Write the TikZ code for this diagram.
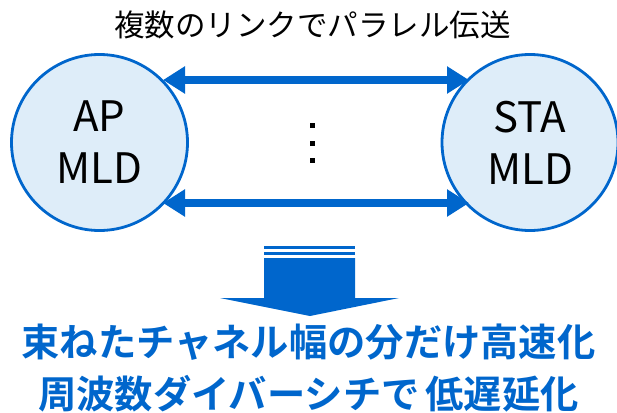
\documentclass[tikz,border=0pt]{standalone}
\usepackage{fontspec}
\setmainfont{Noto Sans CJK JP}
\newfontfamily\jpbold{Noto Sans CJK JP}[BoldFont={* Bold}]
\usetikzlibrary{arrows.meta,shapes.geometric}
\definecolor{mblue}{HTML}{0066CC}
\definecolor{mfill}{HTML}{DEEDF9}
\tikzset{
  mld/.style={circle, draw=mblue, line width=2.8pt, fill=mfill, minimum size=176pt, font=\fontsize{42}{52}\selectfont, align=center, inner sep=0pt},
  link/.style={draw=mblue, line width=8pt, {Triangle[length=22pt,width=26pt]}-{Triangle[length=22pt,width=26pt]}, shorten <=-2pt, shorten >=-2pt},
  dot/.style={fill=black, minimum size=5pt, inner sep=0pt},
  bigtxt/.style={text=mblue, font=\fontsize{38.3}{44}\selectfont\bfseries, inner sep=0pt}
}
\begin{document}
\begin{tikzpicture}[x=1pt,y=-1pt]
\useasboundingbox (0,0) rectangle (617,412);
\node[font=\fontsize{30.5}{34}\selectfont, inner sep=0pt] (title) at (312.5,25) {複数のリンクでパラレル伝送};
\node[mld] (ap) at (99.5,142.5) {AP\\MLD};
\node[mld] (sta) at (530,142.5) {STA\\MLD};
\coordinate (t1) at (165,80); \coordinate (t2) at (467,80);
\coordinate (b1) at (165,203); \coordinate (b2) at (467,203);
\draw[link] (t1) -- (t2);
\draw[link] (b1) -- (b2);
\node[dot] (d1) at (312,125) {};
\node[dot] (d2) at (312,143) {};
\node[dot] (d3) at (312,160) {};
\fill[mblue] (264,246) rectangle (355,249);
\fill[mblue] (264,251.5) rectangle (355,254.5);
\fill[mblue] (264,258) -- (355,258) -- (355,298) -- (399,298) -- (310,316) -- (220,298) -- (264,298) -- cycle;
\node[bigtxt] (l1) at (308.5,342.5) {\jpbold 束ねたチャネル幅の分だけ高速化};
\node[bigtxt] (l2) at (308.5,393.5) {\jpbold 周波数ダイバーシチで\hspace{6pt}低遅延化};
\end{tikzpicture}
\end{document}
